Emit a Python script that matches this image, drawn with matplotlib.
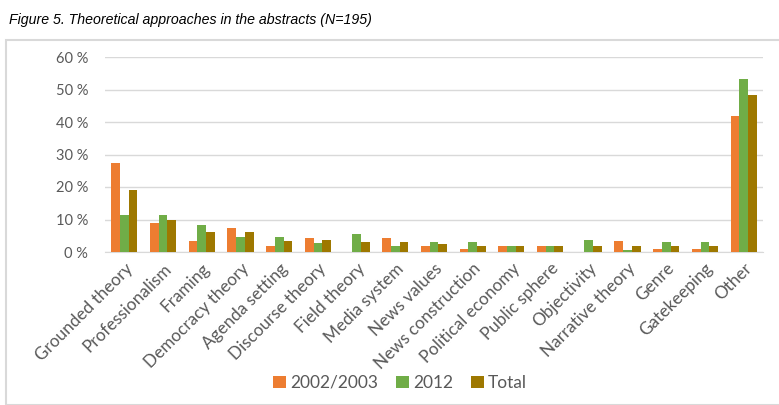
import matplotlib
matplotlib.use("Agg")
import matplotlib.pyplot as plt
from matplotlib.patches import Rectangle
import numpy as np

categories = ["Grounded theory", "Professionalism", "Framing", "Democracy theory",
              "Agenda setting", "Discourse theory", "Field theory", "Media system",
              "News values", "News construction", "Political economy", "Public sphere",
              "Objectivity", "Narrative theory", "Genre", "Gatekeeping", "Other"]
series_names = ["2002/2003", "2012", "Total"]
values_2002 = [27.5, 9.0, 3.3, 7.5, 2.0, 4.2, 0.0, 4.3, 2.0, 1.0, 2.0, 2.0, 0.0, 3.3, 1.0, 1.0, 42.0]
values_2012 = [11.3, 11.3, 8.2, 4.5, 4.5, 2.8, 5.6, 1.7, 3.0, 3.0, 1.9, 1.9, 3.8, 0.7, 3.0, 3.0, 53.3]
values_total = [19.0, 10.0, 6.1, 6.1, 3.5, 3.6, 3.1, 3.1, 2.6, 2.0, 2.0, 2.0, 2.0, 2.0, 2.0, 2.0, 48.4]
y_ticks = [0, 10, 20, 30, 40, 50, 60]

colors = ["#ED7D31", "#70AD47", "#9E7800"]
text_gray = "#595959"
font = "Lato"

W, H = 779, 405
fig = plt.figure(figsize=(W / 100, H / 100), dpi=100)

# chart frame
fig.patches.append(Rectangle((6 / W, 0), 1.2, (H - 40) / H, transform=fig.transFigure,
                             fill=False, edgecolor="#D9D9D9", linewidth=1.5))

fig.text(9 / W, 1 - 20 / H, "Figure 5. Theoretical approaches in the abstracts (N=195)",
         fontfamily="Liberation Sans", style="italic", fontsize=10.2,
         va="center", ha="left", color="black")

left, right = 105, 763
top, bottom = 57, 252
ax = fig.add_axes([left / W, 1 - bottom / H, (right - left) / W, (bottom - top) / H])

x = np.arange(len(categories))
bw = 0.225
for i, (vals, c, name) in enumerate(zip([values_2002, values_2012, values_total], colors, series_names)):
    ax.bar(x + (i - 1) * bw, vals, width=bw, color=c, label=name, zorder=3)

ax.set_xlim(-0.5, len(categories) - 0.5)
ax.set_ylim(0, 60)
ax.set_yticks(y_ticks)
ax.set_yticklabels([f"{v} %" for v in y_ticks], fontfamily=font, fontsize=10.5, color=text_gray)
ax.yaxis.grid(True, color="#D9D9D9", linewidth=1, zorder=0)
ax.tick_params(axis="y", length=0, pad=12)
ax.tick_params(axis="x", length=0, pad=6)
ax.set_xticks(x)
ax.set_xticklabels(categories, rotation=45, ha="right", rotation_mode="anchor",
                   fontfamily=font, fontsize=12.3, color=text_gray)
for lbl in ax.get_xticklabels():
    lbl.set_x(lbl.get_position()[0])
for s in ["top", "right", "left"]:
    ax.spines[s].set_visible(False)
ax.spines["bottom"].set_color("#D9D9D9")

handles, labels = ax.get_legend_handles_labels()
fig.legend(handles, labels, loc="center", bbox_to_anchor=(400 / W, 1 - 383 / H), ncol=3,
           frameon=False, prop={"family": font, "size": 12.5}, labelcolor=text_gray,
           handlelength=0.75, handleheight=0.75, handletextpad=0.25, columnspacing=1.0)

fig.savefig("out.png", dpi=100)
